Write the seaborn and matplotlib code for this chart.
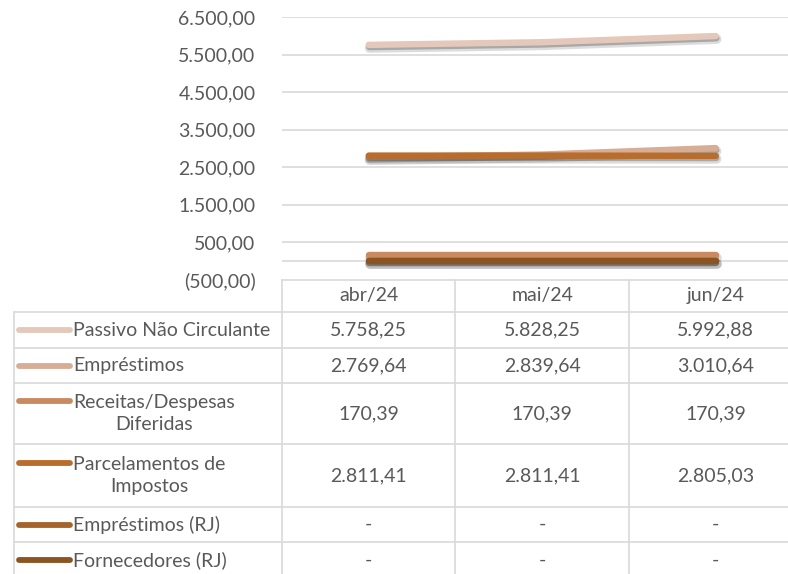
import pandas as pd
import numpy as np
import matplotlib
matplotlib.use('Agg')
import matplotlib.pyplot as plt
import matplotlib.patheffects as pe
import seaborn as sns

# data
months = ['abr/24', 'mai/24', 'jun/24']
series_names = [
    'Passivo Não Circulante',
    'Empréstimos',
    'Receitas/Despesas\nDiferidas',
    'Parcelamentos de\nImpostos',
    'Empréstimos (RJ)',
    'Fornecedores (RJ)',
]
passivo_nc = [5758.25, 5828.25, 5992.88]
emprestimos = [2769.64, 2839.64, 3010.64]
receitas_despesas = [170.39, 170.39, 170.39]
parcelamentos = [2811.41, 2811.41, 2805.03]
emprestimos_rj = [0, 0, 0]
fornecedores_rj = [0, 0, 0]
values = [passivo_nc, emprestimos, receitas_despesas,
          parcelamentos, emprestimos_rj, fornecedores_rj]

colors = ['#E4C8BA', '#D8AD95', '#C98A62', '#B96D2C', '#A5642A', '#8C5421']
y_ticks = [-500, 500, 1500, 2500, 3500, 4500, 5500, 6500]

GRID = '#D9D9D9'
TXT = '#595959'
FS = 14


def fmt_br(v):
    # brazilian number format, Excel accounting-ish
    if v == 0:
        return '-'
    s = f'{abs(v):,.2f}'.replace(',', 'X').replace('.', ',').replace('X', '.')
    return f'({s})' if v < 0 else s


df = pd.DataFrame([
    {'mes': m, 'x': i, 'serie': name, 'valor': vals[i]}
    for name, vals in zip(series_names, values)
    for i, m in enumerate(months)
])

sns.set_style('white')
plt.rcParams['font.family'] = ['Lato', 'DejaVu Sans']

W, H = 788, 574
fig = plt.figure(figsize=(W / 100, H / 100), dpi=100)

# plot area in pixel coords
px_left, px_top, px_bottom = 282, 17, 280
col_w = 173.5
ax = fig.add_axes([px_left / W, 1 - px_bottom / H,
                   3 * col_w / W, (px_bottom - px_top) / H])

sns.lineplot(data=df, x='x', y='valor', hue='serie', hue_order=series_names,
             palette=colors, linewidth=4.6, ax=ax, legend=False,
             solid_capstyle='round')
for ln in ax.lines:
    ln.set_path_effects([
        pe.SimpleLineShadow(offset=(0.6, -2.2), shadow_color='#404040',
                            alpha=0.18, linewidth=7),
        pe.SimpleLineShadow(offset=(0.4, -1.6), shadow_color='#303030',
                            alpha=0.3),
        pe.Normal(),
    ])

ax.set_xlim(-0.5, 2.5)
ax.set_ylim(-500, 6500)
ax.set_xticks([])
ax.set_yticks(y_ticks)
ax.set_yticklabels([fmt_br(t) for t in y_ticks], fontsize=FS, color=TXT)
ax.tick_params(axis='y', length=0, pad=19)
ax.set_xlabel('')
ax.set_ylabel('')
for t in y_ticks[1:]:
    ax.axhline(t, color=GRID, lw=1.2, zorder=0)
ax.axhline(0, color=GRID, lw=1.2, zorder=0)
for s in ax.spines.values():
    s.set_visible(False)

# data table below the plot, in pixel coords
tab = fig.add_axes([0, 0, 1, 1])
tab.set_xlim(0, W)
tab.set_ylim(H, 0)
tab.axis('off')

row_edges = [280, 312, 348, 383, 444, 507, 542, 578]
col_edges = [14, 282, 455.5, 629, 802.5]

for i, y in enumerate(row_edges):
    x0 = col_edges[1] if i == 0 else col_edges[0]
    tab.plot([x0, W + 20], [y, y], color=GRID, lw=1.2, clip_on=False)
for j, x in enumerate(col_edges):
    y0 = row_edges[1] if j == 0 else row_edges[0]
    tab.plot([x, x], [y0, row_edges[-1]], color=GRID, lw=1.2)

for j, m in enumerate(months):
    cx = (col_edges[j + 1] + col_edges[j + 2]) / 2
    tab.text(cx, (row_edges[0] + row_edges[1]) / 2, m, ha='center', va='center',
             fontsize=FS, color=TXT)

for i, (name, vals, c) in enumerate(zip(series_names, values, colors)):
    cy = (row_edges[i + 1] + row_edges[i + 2]) / 2
    first_line_y = cy - 13 if '\n' in name else cy
    tab.plot([19, 70], [first_line_y, first_line_y], color=c, lw=4.2,
             solid_capstyle='round')
    tab.text(73, cy, name, ha='left', va='center', multialignment='center',
             fontsize=FS, color=TXT, linespacing=1.42)
    for j, v in enumerate(vals):
        cx = (col_edges[j + 1] + col_edges[j + 2]) / 2
        tab.text(cx, cy, fmt_br(v), ha='center', va='center',
                 fontsize=FS, color=TXT)

fig.savefig('out.png', dpi=100)
